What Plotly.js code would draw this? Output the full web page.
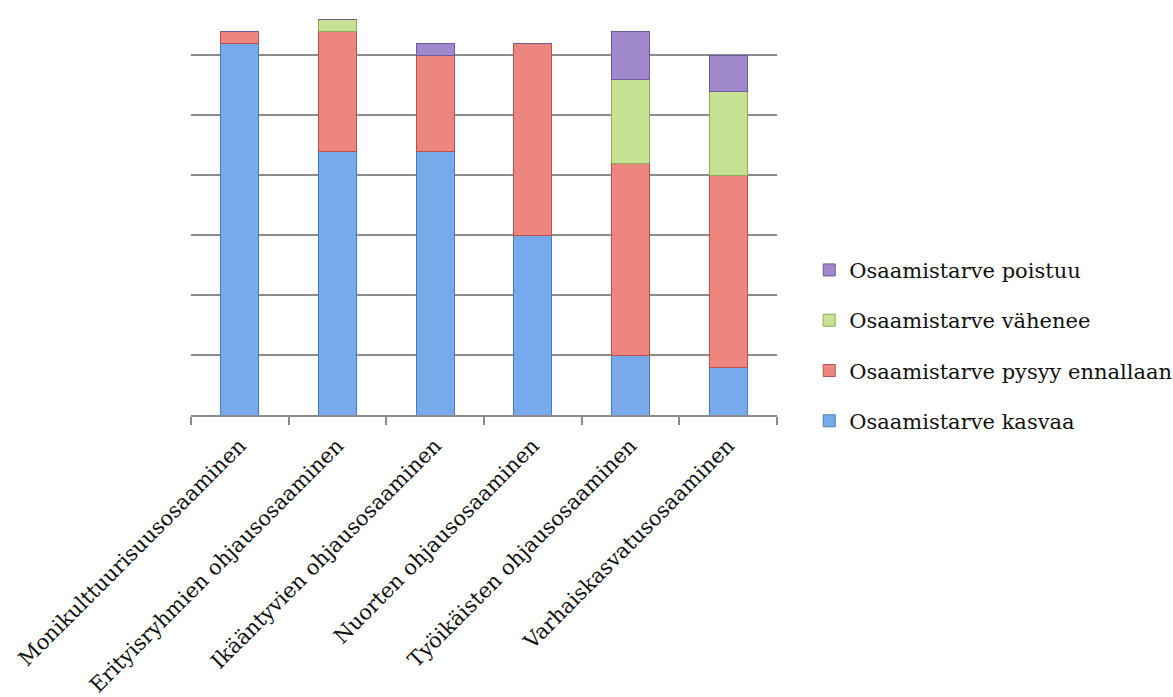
<!DOCTYPE html>
<html>
<head>
<meta charset="utf-8">
<script src="https://cdn.plot.ly/plotly-3.0.1.min.js"></script>
<style>html,body{margin:0;padding:0;background:#fff;}#chart{width:1173px;height:697px;}</style>
</head>
<body>
<div id="chart"></div>
<script>
const categories = [
  "Monikulttuurisuusosaaminen",
  "Erityisryhmien ohjausosaaminen",
  "Ikääntyvien ohjausosaaminen",
  "Nuorten ohjausosaaminen",
  "Työikäisten ohjausosaaminen",
  "Varhaiskasvatusosaaminen"
];
const seriesNames = [
  "Osaamistarve kasvaa",
  "Osaamistarve pysyy ennallaan",
  "Osaamistarve vähenee",
  "Osaamistarve poistuu"
];
const kasvaa   = [31, 22, 22, 15, 5, 4];
const ennallaan = [1, 10, 8, 16, 16, 16];
const vahenee  = [0, 1, 0, 0, 7, 7];
const poistuu  = [0, 0, 1, 0, 4, 3];

const seriesValues = [kasvaa, ennallaan, vahenee, poistuu];
const fillColors = ["#76aaea", "#ee8680", "#c6e394", "#9f88cb"];
const lineColors = ["#4a7cb8", "#b9504b", "#8aac55", "#6e5a9a"];

const FONT = "DejaVu Serif";

const traces = seriesValues.map((vals, i) => ({
  type: "bar",
  name: seriesNames[i],
  x: categories,
  y: vals,
  legendgroup: "g" + i,
  legendrank: 1000 - i,
  marker: { color: fillColors[i], line: { color: lineColors[i], width: 1 } },
  hoverinfo: "x+y+name"
}));

const layout = {
  width: 1173,
  height: 697,
  barmode: "stack",
  bargap: 0.61,
  paper_bgcolor: "#ffffff",
  plot_bgcolor: "#ffffff",
  margin: { l: 191, r: 396, t: 7, b: 282, autoexpand: false },
  font: { family: FONT, size: 21, color: "#111111" },
  showlegend: true,
  legend: {
    x: 1.055, xanchor: "left",
    y: 0.405, yanchor: "top",
    traceorder: "grouped",
    tracegroupgap: 20,
    font: { family: FONT, size: 21, color: "#111111" },
    itemwidth: 30,
    bgcolor: "rgba(0,0,0,0)"
  },
  xaxis: {
    type: "category",
    showline: true,
    linecolor: "#8c8c8c",
    linewidth: 2,
    ticks: "outside",
    tickson: "boundaries",
    ticklen: 8,
    tickwidth: 2,
    tickcolor: "#8c8c8c",
    tickangle: -45,
    ticklabelstandoff: 8,
    tickfont: { family: FONT, size: 21, color: "#111111" },
    showgrid: false,
    zeroline: false
  },
  yaxis: {
    range: [0, 34],
    dtick: 5,
    tick0: 0,
    showticklabels: false,
    showgrid: true,
    gridcolor: "#8c8c8c",
    gridwidth: 2,
    zeroline: false,
    showline: false,
    ticks: ""
  }
};

Plotly.newPlot("chart", traces, layout, { displayModeBar: false, staticPlot: true });
</script>
</body>
</html>
